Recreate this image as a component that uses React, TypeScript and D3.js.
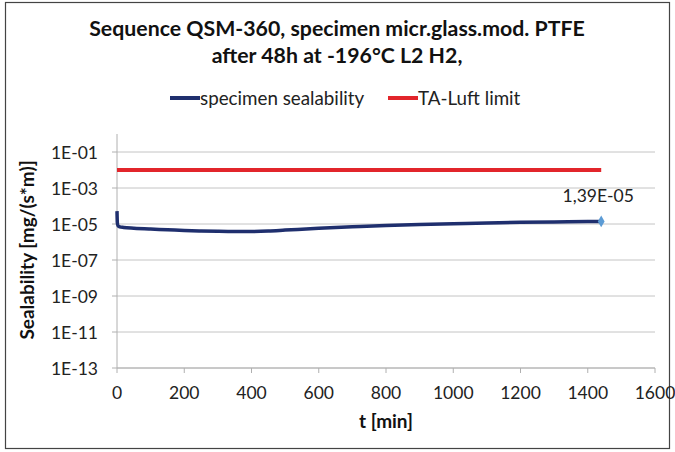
import React, { useRef, useEffect } from "react";
import * as d3 from "d3";

// time [min] and measured sealability [mg/(s*m)]
const timeMin = [0, 1, 3, 8, 20, 50, 100, 150, 200, 250, 300, 350, 400, 450, 500, 600, 700, 800, 900, 1000, 1100, 1200, 1300, 1400, 1440];
const sealability = [5.2e-5, 1.2e-5, 8.0e-6, 7.0e-6, 6.4e-6, 5.8e-6, 5.2e-6, 4.8e-6, 4.4e-6, 4.1e-6, 3.9e-6, 3.8e-6, 3.85e-6, 4.1e-6, 4.6e-6, 5.8e-6, 7.0e-6, 8.3e-6, 9.4e-6, 1.04e-5, 1.14e-5, 1.24e-5, 1.31e-5, 1.37e-5, 1.39e-5];
const limitTime = [0, 1440];
const limitValue = [1e-2, 1e-2];
const yTicks = [1e-1, 1e-3, 1e-5, 1e-7, 1e-9, 1e-11, 1e-13];
const xTicks = [0, 200, 400, 600, 800, 1000, 1200, 1400, 1600];
const endLabel = "1,39E-05";

const W = 675;
const H = 452;
const font = "Lato, 'Open Sans', sans-serif";

const App = () => {
  const svgRef = useRef(null);

  useEffect(() => {
    const svg = d3.select(svgRef.current);
    svg.selectAll("*").remove();

    const left = 117, right = 655, top = 134, bottom = 368;

    const x = d3.scaleLinear().domain([0, 1600]).range([left, right]);
    const y = d3.scaleLog().domain([1e-13, 1]).range([bottom, top]);

    // outer frame
    svg.append("rect")
      .attr("x", 5.5).attr("y", 2.5)
      .attr("width", 664).attr("height", 446)
      .attr("fill", "#fff").attr("stroke", "#444").attr("stroke-width", 1.2);

    // title
    const title = svg.append("text")
      .attr("text-anchor", "middle")
      .attr("font-family", font)
      .attr("font-weight", "bold")
      .attr("font-size", 21.3)
      .attr("fill", "#111");
    title.append("tspan").attr("x", 337).attr("y", 36).text("Sequence QSM-360, specimen micr.glass.mod. PTFE");
    title.append("tspan").attr("x", 337).attr("y", 63).text("after 48h at -196°C L2 H2,");

    // legend
    const legend = [
      { label: "specimen sealability", color: "#1f2f6e", x: 170 },
      { label: "TA-Luft limit", color: "#e2252b", x: 388 },
    ];
    legend.forEach((l) => {
      svg.append("line")
        .attr("x1", l.x).attr("x2", l.x + 30)
        .attr("y1", 98).attr("y2", 98)
        .attr("stroke", l.color).attr("stroke-width", 4);
      svg.append("text")
        .attr("x", l.x + 30).attr("y", 104.5)
        .attr("font-family", font).attr("font-size", 18.8)
        .attr("fill", "#222")
        .text(l.label);
    });

    // gridlines
    svg.append("g")
      .selectAll("line")
      .data(yTicks)
      .enter()
      .append("line")
      .attr("x1", left).attr("x2", right)
      .attr("y1", (d) => y(d)).attr("y2", (d) => y(d))
      .attr("stroke", "#c4c4c4").attr("stroke-width", 1);

    // y axis
    svg.append("line")
      .attr("x1", left).attr("x2", left)
      .attr("y1", top).attr("y2", bottom)
      .attr("stroke", "#b0b0b0");
    svg.append("g")
      .selectAll("line")
      .data(yTicks)
      .enter()
      .append("line")
      .attr("x1", left - 5).attr("x2", left)
      .attr("y1", (d) => y(d)).attr("y2", (d) => y(d))
      .attr("stroke", "#b0b0b0");
    svg.append("g")
      .selectAll("text")
      .data(yTicks)
      .enter()
      .append("text")
      .attr("x", left - 19)
      .attr("y", (d) => y(d) + 6.5)
      .attr("text-anchor", "end")
      .attr("font-family", font).attr("font-size", 17.5)
      .attr("fill", "#222")
      .text((d) => "1E-" + String(Math.round(-Math.log10(d))).padStart(2, "0"));

    // x axis
    svg.append("line")
      .attr("x1", left).attr("x2", right)
      .attr("y1", bottom).attr("y2", bottom)
      .attr("stroke", "#b0b0b0");
    svg.append("g")
      .selectAll("line")
      .data(xTicks)
      .enter()
      .append("line")
      .attr("x1", (d) => x(d)).attr("x2", (d) => x(d))
      .attr("y1", bottom).attr("y2", bottom + 5)
      .attr("stroke", "#b0b0b0");
    svg.append("g")
      .selectAll("text")
      .data(xTicks)
      .enter()
      .append("text")
      .attr("x", (d) => x(d))
      .attr("y", bottom + 31)
      .attr("text-anchor", "middle")
      .attr("font-family", font).attr("font-size", 17.5)
      .attr("fill", "#222")
      .text((d) => d);

    // axis titles
    svg.append("text")
      .attr("x", 386).attr("y", 428)
      .attr("text-anchor", "middle")
      .attr("font-family", font).attr("font-size", 19).attr("font-weight", "bold")
      .attr("fill", "#111")
      .text("t [min]");
    svg.append("text")
      .attr("transform", `translate(34, 250) rotate(-90)`)
      .attr("text-anchor", "middle")
      .attr("font-family", font).attr("font-size", 19).attr("font-weight", "bold")
      .attr("fill", "#111")
      .text("Sealability [mg/(s*m)]");

    // limit line
    const line = d3.line()
      .x((d) => x(d[0]))
      .y((d) => y(d[1]));
    svg.append("path")
      .datum(limitTime.map((t, i) => [t, limitValue[i]]))
      .attr("d", line)
      .attr("fill", "none")
      .attr("stroke", "#e2252b")
      .attr("stroke-width", 4);

    // specimen line
    const pts = timeMin.map((t, i) => [t, sealability[i]]);
    svg.append("path")
      .datum(pts)
      .attr("d", line.curve(d3.curveMonotoneX))
      .attr("fill", "none")
      .attr("stroke", "#1f2f6e")
      .attr("stroke-width", 3.5);

    // last point marker + label
    const last = pts[pts.length - 1];
    svg.append("path")
      .attr("d", d3.symbol(d3.symbolDiamond, 40)())
      .attr("transform", `translate(${x(last[0])}, ${y(last[1])})`)
      .attr("fill", "#5b9bd5");
    svg.append("text")
      .attr("x", x(last[0]) - 3).attr("y", y(last[1]) - 19)
      .attr("text-anchor", "middle")
      .attr("font-family", font).attr("font-size", 17.5)
      .attr("fill", "#222")
      .text(endLabel);
  }, []);

  return (
    <svg
      ref={svgRef}
      width={W}
      height={H}
      style={{ position: "absolute", left: 0, top: 0 }}
    ></svg>
  );
};

export default App;
